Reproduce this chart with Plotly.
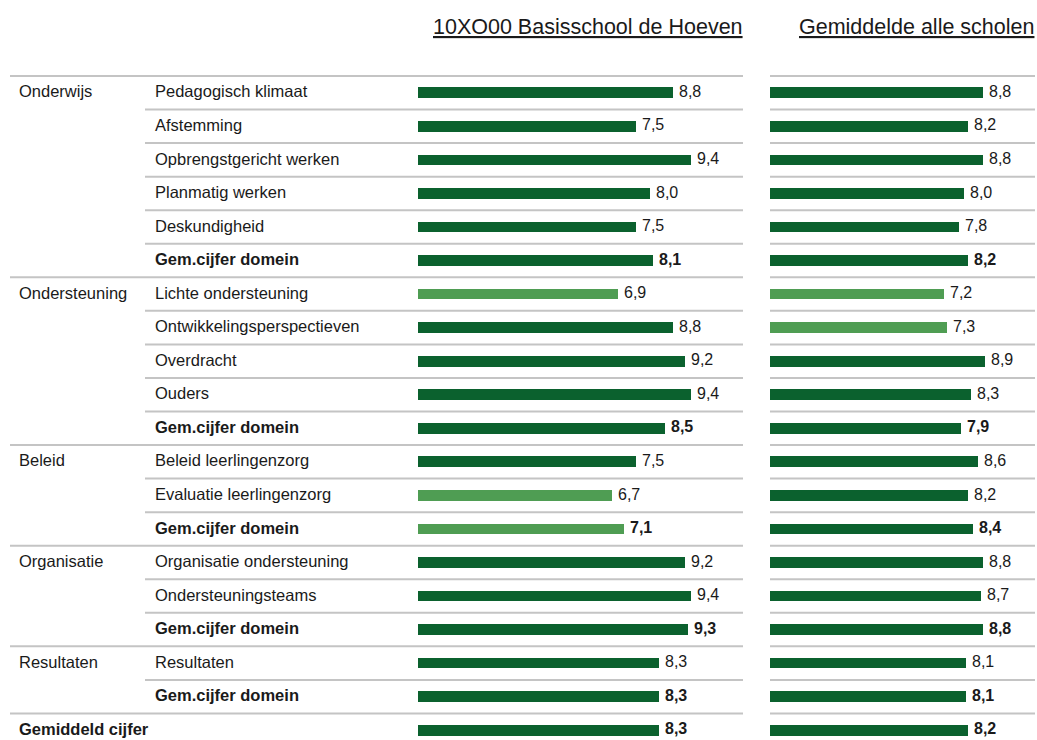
import plotly.graph_objects as go

# ---- data ----
domains = ["Onderwijs", "Ondersteuning", "Beleid", "Organisatie", "Resultaten", "Gemiddeld cijfer"]
domain_sizes = [6, 5, 3, 3, 2, 1]
items = [
    "Pedagogisch klimaat", "Afstemming", "Opbrengstgericht werken", "Planmatig werken",
    "Deskundigheid", "Gem.cijfer domein",
    "Lichte ondersteuning", "Ontwikkelingsperspectieven", "Overdracht", "Ouders",
    "Gem.cijfer domein",
    "Beleid leerlingenzorg", "Evaluatie leerlingenzorg", "Gem.cijfer domein",
    "Organisatie ondersteuning", "Ondersteuningsteams", "Gem.cijfer domein",
    "Resultaten", "Gem.cijfer domein",
    "",
]
school = [8.8, 7.5, 9.4, 8.0, 7.5, 8.1, 6.9, 8.8, 9.2, 9.4, 8.5, 7.5, 6.7, 7.1,
          9.2, 9.4, 9.3, 8.3, 8.3, 8.3]
average = [8.8, 8.2, 8.8, 8.0, 7.8, 8.2, 7.2, 7.3, 8.9, 8.3, 7.9, 8.6, 8.2, 8.4,
           8.8, 8.7, 8.8, 8.1, 8.1, 8.2]
titles = ["10XO00 Basisschool de Hoeven", "Gemiddelde alle scholen"]

# ---- styling ----
OFF = 0                      # body margin is removed by the post script
W, H = 1037, 740
ROW = 33.55
TOP = 76
DARK = "#0b612e"
LIGHT = "#4f9d53"
GRID = "#c4c4c4"
TXT = "#1a1a1a"
FONT = "Liberation Sans, Arial, sans-serif"


def px(p):
    return (p - OFF) / W


def py(p):
    return (p - TOP) / ROW - 0.5


n = len(school)
rows = list(range(n))
bold_rows = [i for i, t in enumerate(items) if t.startswith("Gem.")] + [n - 1]


def colors(vals):
    return [LIGHT if v < 7.5 else DARK for v in vals]


def fmt(i, v):
    s = f"{v:.1f}".replace(".", ",")
    return f"<b>{s}</b>" if i in bold_rows else s


fig = go.Figure()
annotations = []
for vals, xa, xref in [(school, "x", "x"), (average, "x2", "x2")]:
    fig.add_trace(go.Bar(
        x=vals, y=rows, orientation="h", width=0.32,
        marker=dict(color=colors(vals), line=dict(width=0)),
        xaxis=xa, yaxis="y", showlegend=False, hoverinfo="skip",
    ))
    for i, v in enumerate(vals):
        annotations.append(dict(text=fmt(i, v), x=v, y=i - 0.04, xref=xref, yref="y",
                                xanchor="left", yanchor="middle", xshift=4, showarrow=False,
                                font=dict(family=FONT, size=16, color=TXT)))

# domain boundaries
starts = []
acc = 0
for s in domain_sizes:
    starts.append(acc)
    acc += s

shapes = []
for i in range(n):
    yb = i - 0.5
    x0 = 10 if i in starts else 145
    shapes.append(dict(type="line", xref="paper", yref="y", x0=px(x0), x1=px(743),
                       y0=yb, y1=yb, line=dict(color=GRID, width=2)))
    shapes.append(dict(type="line", xref="paper", yref="y", x0=px(770), x1=px(1035),
                       y0=yb, y1=yb, line=dict(color=GRID, width=2)))

for d, s in zip(domains, starts):
    txt = f"<b>{d}</b>" if d == domains[-1] else d
    annotations.append(dict(text=txt, x=px(17), y=s - 0.04, xref="paper", yref="y",
                            xanchor="left", yanchor="middle", showarrow=False,
                            font=dict(family=FONT, size=16.5, color=TXT)))
for i, t in enumerate(items):
    if not t:
        continue
    txt = f"<b>{t}</b>" if i in bold_rows else t
    annotations.append(dict(text=txt, x=px(153), y=i - 0.04, xref="paper", yref="y",
                            xanchor="left", yanchor="middle", showarrow=False,
                            font=dict(family=FONT, size=16.5, color=TXT)))
for t, xc in zip(titles, [745, 1036]):
    annotations.append(dict(text=f"<u>{t}</u>", x=px(xc), y=py(27), xref="paper", yref="y",
                            xanchor="right", yanchor="middle", showarrow=False,
                            font=dict(family=FONT, size=21.5, color=TXT)))

fig.update_layout(
    width=W, height=H,
    margin=dict(l=0, r=0, t=0, b=0),
    paper_bgcolor="white", plot_bgcolor="white",
    bargap=0,
    xaxis=dict(domain=[px(418), px(708)], range=[0, 10], visible=False, fixedrange=True),
    xaxis2=dict(domain=[px(770), px(1012)], range=[0, 10], visible=False, fixedrange=True),
    yaxis=dict(range=[py(H + OFF), py(OFF)], visible=False, fixedrange=True),
    shapes=shapes,
    annotations=annotations,
)

fig.write_html(
    "out.html",
    config={"displayModeBar": False},
    post_script="document.body.style.margin='0';document.body.style.overflow='hidden';"
                "document.documentElement.style.overflow='hidden';",
)
